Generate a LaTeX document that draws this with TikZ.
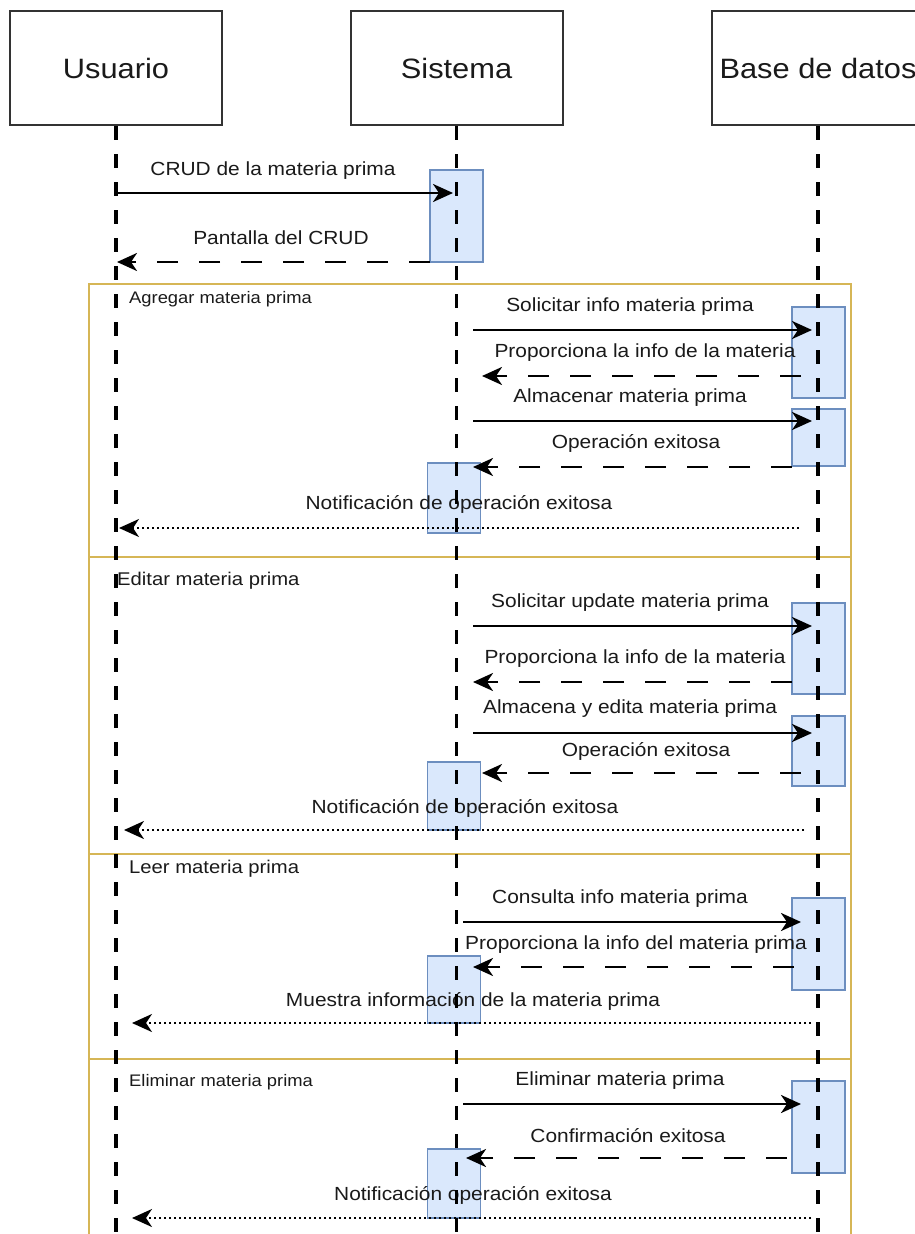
\documentclass[tikz,border=0pt]{standalone}
\usepackage{fontspec}
\setmainfont{Liberation Sans}[FakeStretch=1.1]
\usetikzlibrary{arrows.meta}
\definecolor{actline}{HTML}{333333}
\definecolor{frameline}{HTML}{D6B656}
\definecolor{actfill}{HTML}{DAE8FC}
\definecolor{actdraw}{HTML}{6C8EBF}
\definecolor{txt}{HTML}{1A1A1A}
\tikzset{
  actor/.style={draw=actline, line width=2pt, fill=white, minimum width=212pt,
    minimum height=114pt, inner sep=0pt, font=\fontsize{28}{30}\selectfont, text=txt},
  lifeline/.style={line width=3.5pt, dash pattern=on 14pt off 14pt},
  activation/.style={draw=actdraw, fill=actfill, line width=1.8pt, minimum width=53pt,
    inner sep=0pt},
  frame/.style={draw=frameline, line width=2.2pt},
  framelbl/.style={anchor=west, inner sep=0pt, text=txt},
  lbl/.style={inner sep=0pt, text=txt, font=\fontsize{19}{21}\selectfont},
  tip/.style={-{Stealth[length=20pt,width=18pt,inset=6pt]}},
  callmsg/.style={tip, line width=2.8pt},
  replymsg/.style={tip, line width=2.8pt, dash pattern=on 21pt off 21pt},
  notemsg/.style={tip, line width=2.2pt, dash pattern=on 2pt off 3pt},
}
\begin{document}
\begin{tikzpicture}[x=1pt,y=-1pt]
\useasboundingbox (0,0) rectangle (914,1234);
\fill[white] (0,0) rectangle (914,1234);

% combined fragments
\draw[frame] (89,284) rectangle (851,557);
\draw[frame] (89,557) rectangle (851,854);
\draw[frame] (89,854) rectangle (851,1059);
\draw[frame] (89,1059) rectangle (851,1250);
\node[framelbl, font=\fontsize{16.7}{18}\selectfont] (fAdd) at (129,299) {Agregar materia prima};
\node[framelbl, font=\fontsize{18.4}{20}\selectfont] (fEdit) at (117,581) {Editar materia prima};
\node[framelbl, font=\fontsize{18.4}{20}\selectfont] (fRead) at (129,869) {Leer materia prima};
\node[framelbl, font=\fontsize{16.7}{18}\selectfont] (fDel) at (129,1082) {Eliminar materia prima};

% participants
\node[actor] (usr) at (116,68) {Usuario};
\node[actor] (sys) at (456.5,68) {Sistema};
\node[actor] (db) at (818,68) {Base de datos};

% activation bars
\node[activation, minimum height=92pt] (s1) at (456.5,216) {};
\node[activation, minimum height=91pt] (d1) at (818.5,352.5) {};
\node[activation, minimum height=57pt] (d2) at (818.5,437.5) {};
\node[activation, minimum height=70pt] (s2) at (454,498) {};
\node[activation, minimum height=91pt] (d3) at (818.5,648.5) {};
\node[activation, minimum height=70pt] (d4) at (818.5,751) {};
\node[activation, minimum height=68pt] (s3) at (454,796) {};
\node[activation, minimum height=92pt] (d5) at (818.5,944) {};
\node[activation, minimum height=67pt] (s4) at (454,989.5) {};
\node[activation, minimum height=92pt] (d6) at (818.5,1127) {};
\node[activation, minimum height=69pt] (s5) at (454,1183.5) {};

% message labels
\node[lbl] (l1) at (273,171) {CRUD de la materia prima};
\node[lbl] (l2) at (281,238) {Pantalla del CRUD};
\node[lbl] (l3) at (630,307) {Solicitar info materia prima};
\node[lbl] (l4) at (645,353) {Proporciona la info de la materia};
\node[lbl] (l5) at (630,398) {Almacenar materia prima};
\node[lbl] (l6) at (636,443) {Operación exitosa};
\node[lbl] (l7) at (459,504) {Notificación de operación exitosa};
\node[lbl] (l8) at (630,603) {Solicitar update materia prima};
\node[lbl] (l9) at (635,659) {Proporciona la info de la materia};
\node[lbl] (l10) at (630,709) {Almacena y edita materia prima};
\node[lbl] (l11) at (646,751) {Operación exitosa};
\node[lbl] (l12) at (465,808) {Notificación de operación exitosa};
\node[lbl] (l13) at (620,899) {Consulta info materia prima};
\node[lbl] (l14) at (636,945) {Proporciona la info del materia prima};
\node[lbl] (l15) at (473,1001) {Muestra información de la materia prima};
\node[lbl] (l16) at (620,1081) {Eliminar materia prima};
\node[lbl] (l17) at (628,1136) {Confirmación exitosa};
\node[lbl] (l18) at (473,1195) {Notificación operación exitosa};

% lifelines
\coordinate (usrEnd) at (116,1240);
\coordinate (sysEnd) at (456.5,1240);
\coordinate (dbEnd) at (818,1240);
\draw[lifeline] (usr.south) -- (usrEnd);
\draw[lifeline] (sys.south) -- (sysEnd);
\draw[lifeline] (db.south) -- (dbEnd);

% message end points
\coordinate (m1a) at (116,193);  \coordinate (m1b) at (453,193);
\coordinate (m2a) at (430,262);  \coordinate (m2b) at (117,262);
\coordinate (m3a) at (473,330);  \coordinate (m3b) at (812,330);
\coordinate (m4a) at (801,376);  \coordinate (m4b) at (482,376);
\coordinate (m5a) at (473,421);  \coordinate (m5b) at (812,421);
\coordinate (m6a) at (792,467);  \coordinate (m6b) at (473,467);
\coordinate (m7a) at (799,528);  \coordinate (m7b) at (119,528);
\coordinate (m8a) at (473,626);  \coordinate (m8b) at (812,626);
\coordinate (m9a) at (792,682);  \coordinate (m9b) at (473,682);
\coordinate (m10a) at (473,733); \coordinate (m10b) at (812,733);
\coordinate (m11a) at (801,773); \coordinate (m11b) at (482,773);
\coordinate (m12a) at (804,830); \coordinate (m12b) at (124,830);
\coordinate (m13a) at (463,922); \coordinate (m13b) at (801,922);
\coordinate (m14a) at (794,967); \coordinate (m14b) at (473,967);
\coordinate (m15a) at (811,1023); \coordinate (m15b) at (132,1023);
\coordinate (m16a) at (463,1104); \coordinate (m16b) at (801,1104);
\coordinate (m17a) at (787,1158); \coordinate (m17b) at (466,1158);
\coordinate (m18a) at (811,1218); \coordinate (m18b) at (132,1218);

% messages
\draw[callmsg] (m1a) -- (m1b);
\draw[replymsg] (m2a) -- (m2b);
\draw[callmsg] (m3a) -- (m3b);
\draw[replymsg] (m4a) -- (m4b);
\draw[callmsg] (m5a) -- (m5b);
\draw[replymsg] (m6a) -- (m6b);
\draw[notemsg] (m7a) -- (m7b);
\draw[callmsg] (m8a) -- (m8b);
\draw[replymsg] (m9a) -- (m9b);
\draw[callmsg] (m10a) -- (m10b);
\draw[replymsg] (m11a) -- (m11b);
\draw[notemsg] (m12a) -- (m12b);
\draw[callmsg] (m13a) -- (m13b);
\draw[replymsg] (m14a) -- (m14b);
\draw[notemsg] (m15a) -- (m15b);
\draw[callmsg] (m16a) -- (m16b);
\draw[replymsg] (m17a) -- (m17b);
\draw[notemsg] (m18a) -- (m18b);
\end{tikzpicture}
\end{document}
